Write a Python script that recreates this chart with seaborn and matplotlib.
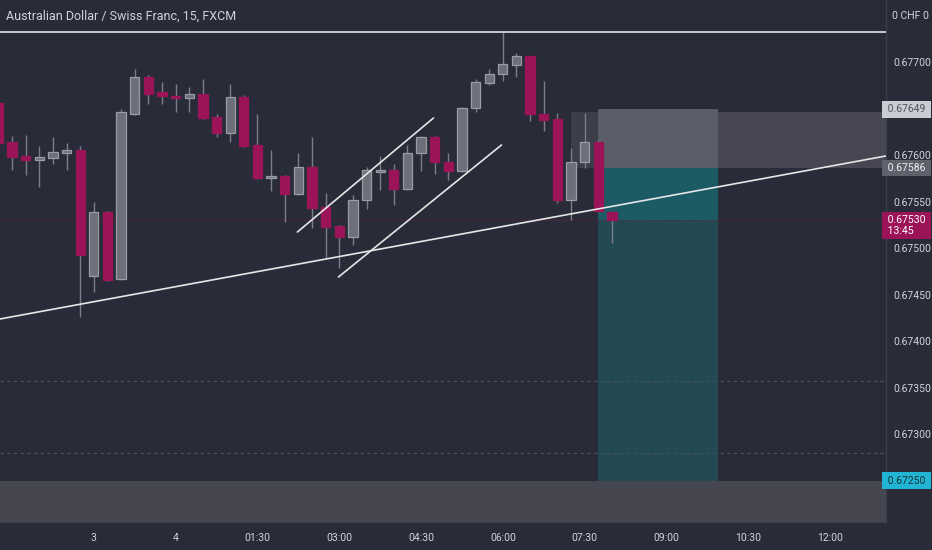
import matplotlib
matplotlib.use("Agg")
import numpy as np
import pandas as pd
import matplotlib.pyplot as plt
import seaborn as sns
from matplotlib.patches import Rectangle
import matplotlib.transforms as mtransforms
from matplotlib import font_manager

# ローソク足データ (15分足, AUD/CHF)
idx = list(range(-1, 45))
opens = [0.67656, 0.67614, 0.67599, 0.67595, 0.67597, 0.67602, 0.67605, 0.67470, 0.67539, 0.67467,
         0.67644, 0.67684, 0.67668, 0.67664, 0.67661, 0.67666, 0.67641, 0.67624, 0.67662, 0.67611,
         0.67575, 0.67577, 0.67558, 0.67587, 0.67544, 0.67524, 0.67512, 0.67552, 0.67582, 0.67584,
         0.67563, 0.67602, 0.67619, 0.67593, 0.67583, 0.67651, 0.67677, 0.67687, 0.67697, 0.67706,
         0.67644, 0.67639, 0.67552, 0.67592, 0.67614, 0.67539]
closes = [0.67613, 0.67598, 0.67595, 0.67598, 0.67603, 0.67605, 0.67493, 0.67539, 0.67466, 0.67646,
          0.67684, 0.67666, 0.67664, 0.67661, 0.67666, 0.67640, 0.67624, 0.67662, 0.67610, 0.67575,
          0.67577, 0.67558, 0.67587, 0.67543, 0.67523, 0.67512, 0.67552, 0.67584, 0.67584, 0.67563,
          0.67602, 0.67619, 0.67592, 0.67583, 0.67651, 0.67678, 0.67687, 0.67698, 0.67706, 0.67644,
          0.67638, 0.67552, 0.67592, 0.67614, 0.67540, 0.67530]
highs = [0.67661, 0.67620, 0.67622, 0.67610, 0.67619, 0.67613, 0.67610, 0.67549, 0.67540, 0.67650,
         0.67692, 0.67686, 0.67678, 0.67676, 0.67673, 0.67682, 0.67644, 0.67676, 0.67665, 0.67644,
         0.67605, 0.67578, 0.67602, 0.67619, 0.67559, 0.67525, 0.67557, 0.67587, 0.67599, 0.67590,
         0.67611, 0.67620, 0.67620, 0.67602, 0.67652, 0.67682, 0.67693, 0.67732, 0.67710, 0.67707,
         0.67680, 0.67645, 0.67608, 0.67645, 0.67616, 0.67540]
lows = [0.67610, 0.67584, 0.67578, 0.67566, 0.67590, 0.67584, 0.67426, 0.67453, 0.67465, 0.67466,
        0.67643, 0.67655, 0.67655, 0.67646, 0.67646, 0.67639, 0.67619, 0.67614, 0.67609, 0.67574,
        0.67561, 0.67528, 0.67557, 0.67522, 0.67489, 0.67478, 0.67503, 0.67542, 0.67562, 0.67546,
        0.67562, 0.67583, 0.67580, 0.67573, 0.67582, 0.67646, 0.67675, 0.67680, 0.67684, 0.67637,
        0.67626, 0.67548, 0.67530, 0.67586, 0.67539, 0.67505]

# 時間軸ラベル (6本ごと)
tick_pos = [6, 12, 18, 24, 30, 36, 42, 48, 54, 60]
tick_labels = ["3", "4", "01:30", "03:00", "04:30", "06:00", "07:30", "09:00", "10:30", "12:00"]
price_ticks = [0.673, 0.6735, 0.674, 0.6745, 0.675, 0.6755, 0.676, 0.677]

# 描画オブジェクト
resistance = 0.67732
trend_main = ([-0.88, 64.1], [0.674237, 0.675990])
chan_upper = ([20.93, 30.91], [0.675172, 0.676398])
chan_lower = ([23.94, 35.90], [0.674688, 0.676108])
dashed_levels = [0.67357, 0.67280]
pos_start, pos_end = 43.0, 51.8
entry, stop, target, last_price = 0.67586, 0.67649, 0.67250, 0.67530
band_left, band_top = 41.0, 0.67646

df = pd.DataFrame({"k": idx, "open": opens, "close": closes, "high": highs, "low": lows})
df["up"] = df["close"] >= df["open"]

BG = "#292c38"
RED = "#9c1458"
GREY = "#6d707a"
GREY_EDGE = "#9a9da6"
TXT = "#d1d4dc"

sns.set_theme(style="dark", rc={"axes.facecolor": BG, "figure.facecolor": BG})
names = {f.name for f in font_manager.fontManager.ttflist}
narrow = [n for n in ["Liberation Sans Narrow", "DejaVu Sans Condensed"] if n in names]
plt.rcParams["font.family"] = narrow + ["Roboto", "DejaVu Sans"]
print(narrow)

fig = plt.figure(figsize=(9.32, 5.5), dpi=100)
ax = fig.add_axes([0, 28 / 550, 886 / 932, 522 / 550])
ax.set_facecolor(BG)
ax.set_xlim(-0.88, 64.1)
ax.set_ylim(0.672054, 0.677667)

# 背景の矩形類
ax.axhspan(0.672054, target, color="#45464f", lw=0, zorder=0)
ax.add_patch(Rectangle((band_left, entry), 64.1 - band_left, band_top - entry,
                       color="#464753", lw=0, zorder=0.5))
ax.add_patch(Rectangle((band_left, entry), pos_start - band_left, band_top - entry,
                       color="#3c3e4a", lw=0, zorder=0.6))
ax.add_patch(Rectangle((pos_start, entry), pos_end - pos_start, stop - entry,
                       color="#5b5d69", lw=0, zorder=0.7))
ax.add_patch(Rectangle((pos_start, target), pos_end - pos_start, entry - target,
                       color="#234953", lw=0, zorder=0.7))
ax.add_patch(Rectangle((pos_start, last_price), pos_end - pos_start, entry - last_price,
                       color="#1c5a64", lw=0, zorder=0.8))

for lv in dashed_levels:
    ax.axhline(lv, color="#4e515c", lw=0.8, ls=(0, (3, 3)), zorder=1)
ax.axhline(last_price, color="#6b1a3f", lw=0.8, ls=(0, (1, 1.5)), zorder=1)
ax.axhline(resistance, color="#c8c9cc", lw=1.4, zorder=4)

# ローソク足
wick_col = "#7b7e88"
ax.vlines(df["k"], df["low"], df["high"], color=wick_col, lw=1, zorder=2)
up = df[df["up"]]
dn = df[~df["up"]]
ax.bar(up["k"], (up["close"] - up["open"]).clip(lower=0.000015), bottom=up["open"], width=0.68,
       color=GREY, edgecolor=GREY_EDGE, linewidth=0.9, zorder=3)
ax.bar(dn["k"], (dn["close"] - dn["open"]).clip(upper=-0.000015), bottom=dn["open"], width=0.68,
       color=RED, edgecolor=RED, linewidth=0.9, zorder=3)

# トレンドライン
for xs, ys in [trend_main, chan_upper, chan_lower]:
    sns.lineplot(x=xs, y=ys, ax=ax, color="#e6e6e6", lw=1.2, estimator=None, sort=False, zorder=4)

# 軸
fs = 8.5 if narrow else 7.5
ax.yaxis.tick_right()
ax.set_yticks(price_ticks)
ax.set_yticklabels([f"{p:.5f}" for p in price_ticks])
ax.set_xticks(tick_pos)
ax.set_xticklabels(tick_labels)
ax.tick_params(axis="y", length=0, pad=5, labelsize=fs, labelcolor=TXT)
ax.tick_params(axis="x", length=0, pad=8, labelsize=fs, labelcolor=TXT)
ax.set_xlabel("")
ax.set_ylabel("")
ax.grid(False)
for s in ["top", "left"]:
    ax.spines[s].set_visible(False)
for s in ["right", "bottom"]:
    ax.spines[s].set_color("#3b3e4a")
    ax.spines[s].set_linewidth(1)

# 価格ラベル
tr = mtransforms.blended_transform_factory(ax.transAxes, ax.transData)
def price_tag(p, text, fc, tc):
    ax.text(0.999, p, " " + text + " ", transform=tr, ha="left", va="center", fontsize=fs, color=tc,
            bbox=dict(boxstyle="square,pad=0.3", fc=fc, ec="none"), clip_on=False, zorder=6)

price_tag(stop, "0.67649", "#c9ccd2", "#50535c")
price_tag(entry, "0.67586", "#5f626c", "#f0f0f0")
price_tag(target, "0.67250", "#22b5d3", "#14323a")
ax.text(0.999, last_price - 0.00006, " 0.67530 \n 13:45", transform=tr, ha="left", va="center",
        fontsize=fs, color="white", linespacing=1.1,
        bbox=dict(boxstyle="square,pad=0.3", fc=RED, ec="none"), clip_on=False, zorder=6)

fig.text(6 / 932, 1 - 16 / 550, "Australian Dollar / Swiss Franc, 15, FXCM", color=TXT,
         fontsize=9, va="center", ha="left")
fig.text(892 / 932, 1 - 16 / 550, "0 CHF 0", color=TXT, fontsize=fs, va="center", ha="left")

fig.savefig("out.png", dpi=100, facecolor=BG)
